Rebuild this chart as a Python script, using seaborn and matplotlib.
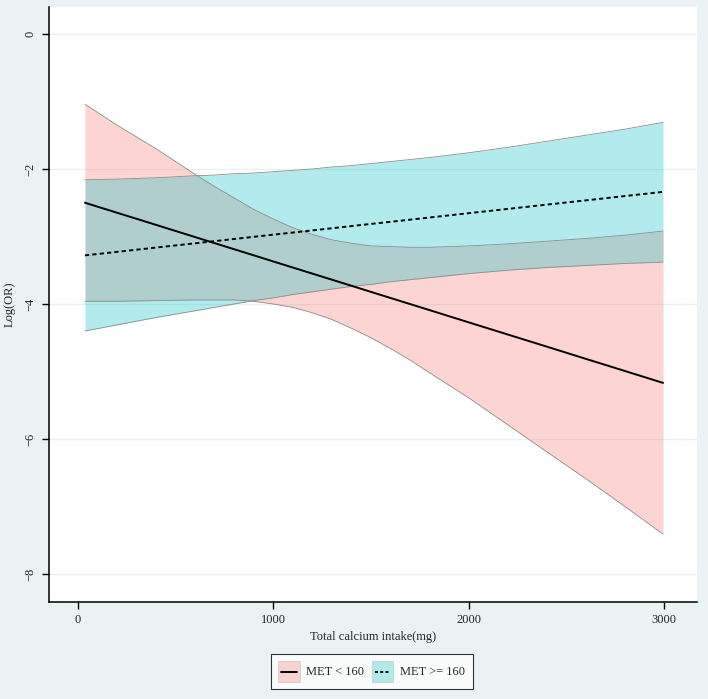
import pandas as pd
import seaborn as sns
import matplotlib.pyplot as plt
from matplotlib.patches import Rectangle
from matplotlib.lines import Line2D

# values
calcium = [36, 200, 400, 600, 700, 800, 900, 1000, 1100, 1200, 1300, 1400, 1500,
           1600, 1700, 1800, 2000, 2200, 2400, 2600, 2800, 2995]

low_fit = [-2.500, -2.648, -2.828, -3.009, -3.099, -3.189, -3.279, -3.370, -3.460, -3.550, -3.640,
           -3.730, -3.821, -3.911, -4.001, -4.091, -4.272, -4.452, -4.632, -4.813, -4.993, -5.169]
low_upper = [-1.04, -1.35, -1.70, -2.08, -2.26, -2.43, -2.60, -2.74, -2.87, -2.97, -3.05,
             -3.10, -3.14, -3.15, -3.16, -3.16, -3.14, -3.11, -3.07, -3.03, -2.98, -2.92]
low_lower = [-3.96, -3.96, -3.95, -3.94, -3.94, -3.94, -3.96, -4.00, -4.05, -4.13, -4.23,
             -4.36, -4.50, -4.66, -4.83, -5.02, -5.39, -5.79, -6.19, -6.59, -7.00, -7.41]

high_fit = [-3.280, -3.228, -3.164, -3.101, -3.069, -3.037, -3.005, -2.973, -2.942, -2.910, -2.878,
            -2.846, -2.814, -2.783, -2.751, -2.719, -2.655, -2.592, -2.528, -2.465, -2.401, -2.339]
high_upper = [-2.16, -2.15, -2.13, -2.10, -2.09, -2.07, -2.06, -2.04, -2.02, -2.00, -1.97,
              -1.95, -1.92, -1.89, -1.86, -1.83, -1.76, -1.68, -1.59, -1.50, -1.41, -1.31]
high_lower = [-4.40, -4.31, -4.20, -4.10, -4.05, -4.00, -3.95, -3.91, -3.86, -3.82, -3.78,
              -3.74, -3.71, -3.67, -3.64, -3.61, -3.55, -3.50, -3.46, -3.43, -3.40, -3.38]

groups = ["MET < 160", "MET >= 160"]
xticks = [0, 1000, 2000, 3000]
yticks = [0, -2, -4, -6, -8]

pink = "#F8766D"
teal = "#00BFC4"
bg = "#EAF2F3"
edge_grey = "#8c8c8c"

df = pd.DataFrame({
    "calcium": calcium * 2,
    "logor": low_fit + high_fit,
    "group": [groups[0]] * len(calcium) + [groups[1]] * len(calcium),
})

sns.set_style("white")
plt.rcParams["font.family"] = ["Liberation Serif", "DejaVu Serif"]

fig = plt.figure(figsize=(7.08, 6.99), dpi=100, facecolor=bg)
ax = fig.add_axes([0.0692, 0.1388, 0.9153, 0.8512])
ax.set_facecolor("white")

# confidence bands
ax.fill_between(calcium, low_lower, low_upper, color=pink, alpha=0.3, lw=0)
ax.fill_between(calcium, high_lower, high_upper, color=teal, alpha=0.3, lw=0)
for edge in [low_upper, low_lower, high_upper, high_lower]:
    ax.plot(calcium, edge, color=edge_grey, lw=0.6)

sns.lineplot(data=df, x="calcium", y="logor", hue="group", style="group",
             palette={groups[0]: "black", groups[1]: "black"},
             dashes={groups[0]: "", groups[1]: (2.2, 1.6)},
             linewidth=1.4, legend=False, ax=ax)

ax.set_xlim(-148, 3169)
ax.set_ylim(-8.415, 0.40)
ax.set_xticks(xticks)
ax.set_yticks(yticks)
ax.set_xticklabels([str(t) for t in xticks], fontsize=9)
ax.set_yticklabels(["0", "\u22122", "\u22124", "\u22126", "\u22128"], fontsize=9, rotation=90, va="center")
ax.yaxis.grid(True, color="#E8F0F1", lw=1)
ax.set_axisbelow(True)
ax.tick_params(axis="both", direction="out", length=5, width=1, color="black", pad=4, left=True, bottom=True)
for s in ["top", "right"]:
    ax.spines[s].set_visible(False)
for s in ["left", "bottom"]:
    ax.spines[s].set_color("black")
    ax.spines[s].set_linewidth(1.1)

ax.set_xlabel("Total calcium intake(mg)", fontsize=9, labelpad=3)
ax.set_ylabel("Log(OR)", fontsize=9, labelpad=6)


# legend key: shaded square with the line drawn across it
class BandKey:
    def __init__(self, color, dashes):
        self.color = color
        self.dashes = dashes

    def legend_artist(self, legend, orig_handle, fontsize, handlebox):
        x0, y0 = -handlebox.xdescent, -handlebox.ydescent
        w, h = handlebox.width, handlebox.height
        tr = handlebox.get_transform()
        rect = Rectangle((x0, y0), w, h, facecolor=self.color, alpha=0.3,
                         edgecolor=edge_grey, lw=0.6, transform=tr)
        line = Line2D([x0 + 2, x0 + w - 2], [y0 + h / 2, y0 + h / 2], color="black", lw=1.4, transform=tr)
        if self.dashes:
            line.set_dashes(self.dashes)
        handlebox.add_artist(rect)
        handlebox.add_artist(line)
        return rect


h1 = Rectangle((0, 0), 1, 1)
h2 = Rectangle((0, 0), 1, 1)
leg = fig.legend([h1, h2], groups,
                 handler_map={h1: BandKey(pink, None), h2: BandKey(teal, (1.5, 1.2))},
                 loc="center", bbox_to_anchor=(0.525, 0.0393), ncol=2, fontsize=9,
                 frameon=True, fancybox=False, edgecolor="black", facecolor="white",
                 handlelength=1.7, handleheight=2.2, columnspacing=0.6, handletextpad=0.55,
                 borderpad=0.6)
leg.get_frame().set_linewidth(0.8)

fig.savefig("out.png", dpi=100, facecolor=bg)
